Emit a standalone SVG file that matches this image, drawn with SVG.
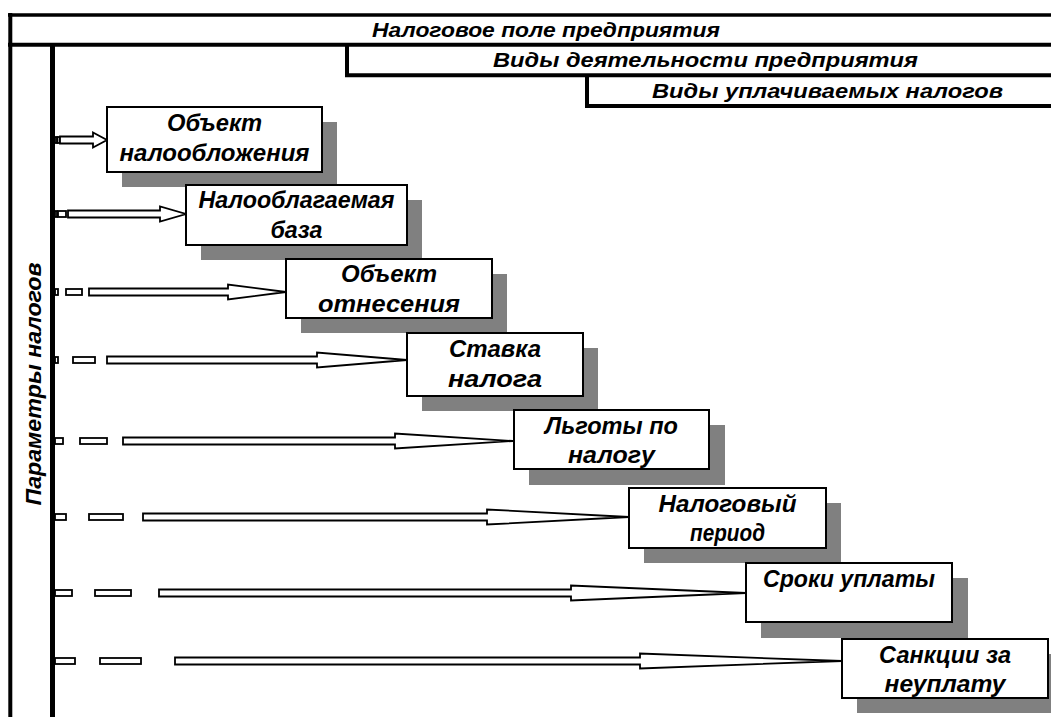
<svg xmlns="http://www.w3.org/2000/svg" width="1051" height="717" viewBox="0 0 1051 717">
<style>
.t{font-family:"Liberation Sans",Arial,sans-serif;font-weight:bold;font-style:italic;font-size:23px;text-anchor:middle;fill:#000}
.h{font-size:21px}
.v{font-size:22px}
.ln{stroke:#000;fill:none}
.box{fill:#fff;stroke:#000;stroke-width:2}
.sh{fill:#808080}
.ar{fill:#fff;stroke:#000;stroke-width:1.8;stroke-linejoin:miter}
</style>
<rect width="1051" height="717" fill="#fff"/>
<g id="frame">
  <line class="ln" x1="8" y1="15" x2="1051" y2="15" stroke-width="3.5"/>
  <line class="ln" x1="10.3" y1="13" x2="10.3" y2="717" stroke-width="4"/>
  <line class="ln" x1="8" y1="44.7" x2="1051" y2="44.7" stroke-width="4"/>
  <line class="ln" x1="52.5" y1="44" x2="52.5" y2="717" stroke-width="5"/>
</g>
<g id="header-tax-field">
  <text class="t h" x="546" y="37" textLength="348" lengthAdjust="spacingAndGlyphs">Налоговое поле предприятия</text>
</g>
<g id="header-activities">
  <line class="ln" x1="347" y1="44" x2="347" y2="77" stroke-width="4"/>
  <line class="ln" x1="345" y1="75.3" x2="1051" y2="75.3" stroke-width="4"/>
  <text class="t h" x="705.5" y="67" textLength="425" lengthAdjust="spacingAndGlyphs">Виды деятельности предприятия</text>
</g>
<g id="header-taxes">
  <line class="ln" x1="587" y1="75" x2="587" y2="108" stroke-width="4"/>
  <line class="ln" x1="585" y1="106" x2="1051" y2="106" stroke-width="4"/>
  <text class="t h" x="827.5" y="98" textLength="351" lengthAdjust="spacingAndGlyphs">Виды уплачиваемых налогов</text>
</g>
<g id="side-label">
  <text class="t v" transform="translate(41,384) rotate(-90)" x="0" y="0" textLength="243" lengthAdjust="spacingAndGlyphs">Параметры налогов</text>
</g>
<g id="connectors">
  <rect class="ar" x="55" y="137" width="2" height="6"/>
  <rect class="ar" x="57.5" y="137" width="2.5" height="6"/>
  <path class="ar" d="M60,136.5 H93 V132.5 L107,140 L93,147.5 V143.5 H60 Z"/>
  <rect class="ar" x="55" y="211" width="2" height="6"/>
  <rect class="ar" x="58" y="211" width="8" height="6"/>
  <path class="ar" d="M68,210.5 H160 V206.5 L186,214 L160,221.5 V217.5 H68 Z"/>
  <rect class="ar" x="55" y="289" width="3" height="6"/>
  <rect class="ar" x="66" y="289" width="16" height="6"/>
  <path class="ar" d="M89,288.5 H228 V284.5 L286,292 L228,299.5 V295.5 H89 Z"/>
  <rect class="ar" x="55" y="357" width="3" height="6"/>
  <rect class="ar" x="73" y="357" width="22" height="6"/>
  <path class="ar" d="M107,356.5 H317 V352.5 L407,360 L317,367.5 V363.5 H107 Z"/>
  <rect class="ar" x="55" y="438" width="8" height="6"/>
  <rect class="ar" x="80" y="438" width="27" height="6"/>
  <path class="ar" d="M123,437.5 H395 V433.5 L513,441 L395,448.5 V444.5 H123 Z"/>
  <rect class="ar" x="55" y="514" width="11" height="6"/>
  <rect class="ar" x="89" y="514" width="34" height="6"/>
  <path class="ar" d="M143,513.5 H487 V509.5 L629,517 L487,524.5 V520.5 H143 Z"/>
  <rect class="ar" x="55" y="590" width="17" height="6"/>
  <rect class="ar" x="95" y="590" width="36" height="6"/>
  <path class="ar" d="M159,589.5 H571 V585.5 L746,593 L571,600.5 V596.5 H159 Z"/>
  <rect class="ar" x="55" y="658" width="20" height="6"/>
  <rect class="ar" x="100" y="658" width="41" height="6"/>
  <path class="ar" d="M175,657.5 H640 V653.5 L842,661 L640,668.5 V664.5 H175 Z"/>
</g>
<g id="node-object">
  <rect class="sh" x="122" y="122" width="215" height="65"/>
  <rect class="box" x="107" y="107" width="215" height="65"/>
  <text class="t" x="214.5" y="131" textLength="95" lengthAdjust="spacingAndGlyphs">Объект</text>
  <text class="t" x="214.5" y="161" textLength="190" lengthAdjust="spacingAndGlyphs">налообложения</text>
</g>
<g id="node-base">
  <rect class="sh" x="201" y="200" width="221" height="60"/>
  <rect class="box" x="186" y="185" width="221" height="60"/>
  <text class="t" x="296.5" y="208" textLength="196" lengthAdjust="spacingAndGlyphs">Налооблагаемая</text>
  <text class="t" x="296.5" y="238" textLength="52" lengthAdjust="spacingAndGlyphs">база</text>
</g>
<g id="node-attribution">
  <rect class="sh" x="301" y="274" width="206" height="59"/>
  <rect class="box" x="286" y="259" width="206" height="59"/>
  <text class="t" x="389" y="282" textLength="96" lengthAdjust="spacingAndGlyphs">Объект</text>
  <text class="t" x="389" y="312" textLength="142" lengthAdjust="spacingAndGlyphs">отнесения</text>
</g>
<g id="node-rate">
  <rect class="sh" x="422" y="348" width="176" height="63"/>
  <rect class="box" x="407" y="333" width="176" height="63"/>
  <text class="t" x="495" y="357" textLength="92" lengthAdjust="spacingAndGlyphs">Ставка</text>
  <text class="t" x="495" y="387" textLength="94" lengthAdjust="spacingAndGlyphs">налога</text>
</g>
<g id="node-benefits">
  <rect class="sh" x="529" y="425" width="196" height="60"/>
  <rect class="box" x="514" y="410" width="195" height="59"/>
  <text class="t" x="611.5" y="434" textLength="133" lengthAdjust="spacingAndGlyphs">Льготы по</text>
  <text class="t" x="611.5" y="463" textLength="87" lengthAdjust="spacingAndGlyphs">налогу</text>
</g>
<g id="node-period">
  <rect class="sh" x="644" y="503" width="197" height="60"/>
  <rect class="box" x="629" y="488" width="197" height="60"/>
  <text class="t" x="727.5" y="512" textLength="138" lengthAdjust="spacingAndGlyphs">Налоговый</text>
  <text class="t" x="727.5" y="541" textLength="75" lengthAdjust="spacingAndGlyphs">период</text>
</g>
<g id="node-deadlines">
  <rect class="sh" x="761" y="578" width="207" height="60"/>
  <rect class="box" x="746" y="563" width="206" height="59"/>
  <text class="t" x="849" y="587" textLength="172" lengthAdjust="spacingAndGlyphs">Сроки уплаты</text>
</g>
<g id="node-sanctions">
  <rect class="sh" x="857" y="654" width="206" height="59"/>
  <rect class="box" x="842" y="639" width="206" height="59"/>
  <text class="t" x="945" y="663" textLength="132" lengthAdjust="spacingAndGlyphs">Санкции за</text>
  <text class="t" x="945" y="692" textLength="121" lengthAdjust="spacingAndGlyphs">неуплату</text>
</g>
</svg>
